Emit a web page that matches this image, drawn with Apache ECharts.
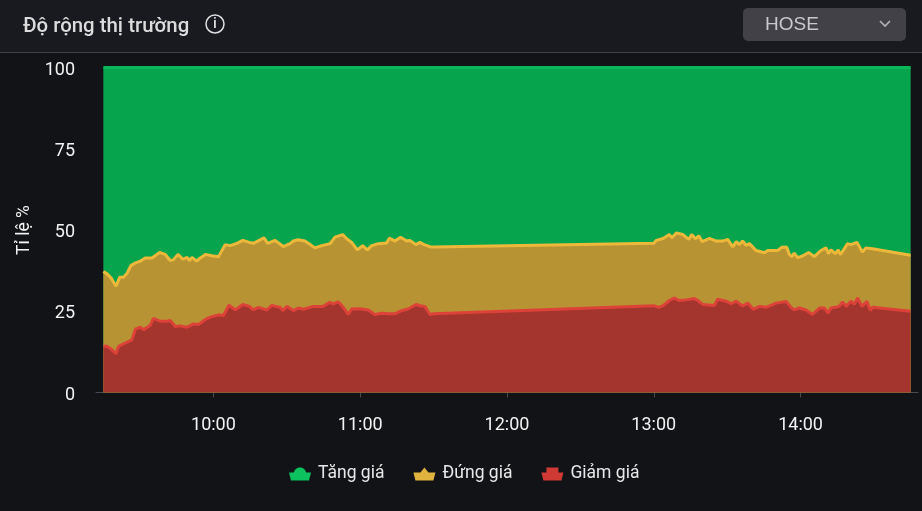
<!DOCTYPE html>
<html lang="vi">
<head>
<meta charset="utf-8">
<title>Độ rộng thị trường</title>
<style>
  html, body { margin: 0; padding: 0; background: #121316; }
  #chart { width: 922px; height: 511px; }
</style>
<script src="https://cdn.jsdelivr.net/npm/echarts@6/dist/echarts.min.js"></script>
</head>
<body>
<div id="chart"></div>
<script>
// Minutes after the 09:15 open, with the cumulative share (%) at each boundary.
const flatMinutes = [0, 330];
const flatValues = [100, 100];

const unchangedMinutes = [0, 1.5, 3.1, 5.2, 6.7, 8.3, 9.7, 11.3, 13.1, 15.1, 17.1, 19.9, 23, 25.3, 27.3, 28.6, 30.5, 32.5, 34.2, 35.2, 36.2, 38.2, 39.6, 41.9, 44.4, 47.1, 49.8, 51.8, 54.6, 57, 59.7, 61.3, 65.7, 67.1, 70.2, 73.6, 76.3, 77.7, 79.7, 82.4, 83.8, 86.5, 89.3, 92.7, 94.7, 97.8, 99.5, 101.5, 103.8, 106, 107.9, 109.7, 112.4, 115.8, 116.9, 119.2, 121.5, 124, 125.3, 127.8, 129.4, 131.4, 133.8, 135, 225, 226, 228.8, 231.4, 232.4, 234.2, 236.9, 239.3, 240.5, 242, 243.4, 244.8, 247.8, 250.5, 253.2, 255.2, 257.3, 258.7, 260, 261.3, 262.7, 264.1, 266.8, 270.2, 271.6, 275.6, 277.4, 279.3, 280.4, 281.5, 282.4, 283.8, 285.8, 288.3, 290.6, 293.3, 295.4, 296.4, 297.4, 299.2, 300.4, 301.3, 304.2, 305.6, 308, 310.3, 311.7, 314.4, 330];
const unchangedValues = [37.2, 36.5, 35.3, 32.7, 35.5, 35.5, 36.7, 39.1, 39.9, 40.4, 41.4, 41.4, 43.1, 42.5, 40.6, 40.8, 42.5, 41, 41.6, 40.6, 41.6, 40.4, 41.4, 42.5, 42.1, 41.8, 45.5, 45.2, 45.9, 46.8, 46.2, 45.9, 47.6, 45.9, 46.8, 44.9, 45.8, 46.6, 47, 46.6, 45.9, 44.5, 45.2, 45.8, 47.8, 48.6, 47.3, 46.2, 43.9, 45.2, 43.9, 45.2, 45.8, 46, 47.5, 46.6, 47.8, 46.6, 46.8, 45.5, 46.2, 45.4, 44.8, 44.8, 45.9, 46.8, 47.4, 48.6, 47.6, 49.1, 48.6, 47.1, 48.6, 47.3, 48.2, 46.4, 47.4, 46.6, 46.6, 47.1, 44.8, 46.4, 45.5, 46.6, 45.3, 45.8, 43.7, 43, 43.7, 43.7, 44.7, 44.8, 42.5, 41.8, 42.9, 41.5, 42, 43.1, 41.8, 43.7, 44.5, 42.7, 43.9, 42.7, 43.9, 42.4, 45.8, 45.5, 46.2, 43.2, 44.5, 44.2, 42.2];

const fallingMinutes = [0, 1.5, 3.1, 5.2, 6.2, 8.3, 11.7, 13.1, 15.1, 16.5, 19.2, 20.5, 23.3, 26, 27.3, 29.4, 31.4, 34.2, 36.9, 38.9, 41.6, 43.7, 47.1, 49.1, 51.4, 53.9, 57, 59.7, 61.3, 63.4, 66.8, 68.9, 72.2, 73.5, 75, 77.7, 79.7, 81.8, 85.8, 89.9, 92.4, 94, 96, 98.1, 100.1, 101.5, 104.9, 108.3, 111, 113.8, 116.4, 119.2, 121.9, 124.6, 127.8, 129.4, 131.4, 133.5, 135, 225, 225.7, 227.1, 229, 231.4, 233.5, 235.2, 238.2, 241.6, 243, 245, 249.8, 251.1, 254.6, 256.6, 258.7, 261.3, 263.4, 265.7, 268.2, 270.9, 275, 279.1, 281.1, 282.4, 284.5, 287.2, 289.9, 292.7, 294.7, 296.3, 297.4, 300.8, 302.2, 303.6, 305.6, 307, 308.3, 310.1, 312.1, 313.5, 314.4, 330];
const fallingValues = [14.2, 14.2, 13.4, 11.9, 14.2, 15, 16.2, 19.5, 20.1, 19.3, 20.7, 22.8, 21.9, 21.9, 22.2, 20.3, 20.5, 20.1, 21.1, 20.9, 22.4, 23.2, 23.9, 23.7, 26.9, 25.4, 27.1, 26.5, 25.4, 26.2, 25.4, 26.8, 26.2, 25.2, 26.5, 25.2, 26, 25.6, 26.5, 26.5, 27.7, 27.3, 27.9, 26.2, 24, 25.7, 25.8, 25.4, 24, 24.4, 24.2, 24.2, 25.2, 25.7, 27.1, 26.7, 26.5, 24, 24.2, 26.7, 26.8, 26.2, 26.8, 28.3, 29.1, 28.3, 28.5, 28.9, 28.3, 27.1, 26.8, 28.7, 28.1, 27.3, 28.1, 26.6, 27.5, 25.6, 26.5, 26.2, 27.5, 28, 26.2, 25.4, 26, 25.4, 24, 26, 26, 24.4, 26, 26.5, 27.9, 26.5, 28.1, 27.1, 29.1, 26.5, 28.1, 25.2, 26.2, 25];

const yTicks = [0, 25, 50, 75, 100];
const seriesNames = ['Tăng giá', 'Đứng giá', 'Giảm giá'];
const titleText = 'Độ rộng thị trường';
const exchangeText = 'HOSE';

const OPEN = new Date(2024, 0, 8, 9, 15).getTime();
const MINUTE = 60000;
const toPoints = (minutes, values) => minutes.map((m, i) => [OPEN + m * MINUTE, values[i]]);

// Legend glyphs: a tapered bar with a differently shaped cap per series.
const ICON_DOME = 'path://M0,5 L5,5 C6,-1.5 16,-1.5 17,5 L22,5 L20,13 L2,13 Z';
const ICON_STAR = 'path://M0,5 L7,5 L11,0 L15,5 L22,5 L20,13 L2,13 Z';
const ICON_SQUARE = 'path://M0,5 L5,5 L5,0 L17,0 L17,5 L22,5 L20,13 L2,13 Z';

const areaSeries = (name, points, line, fill) => ({
  name,
  type: 'line',
  data: points,
  symbol: 'none',
  showSymbol: false,
  clip: false,
  animation: false,
  itemStyle: { color: line },
  lineStyle: { color: line, width: 3 },
  areaStyle: { color: fill, opacity: 1 }
});

const chart = echarts.init(document.getElementById('chart'), null, { renderer: 'canvas' });
chart.setOption({
  backgroundColor: '#121316',
  animation: false,
  textStyle: { fontFamily: 'Roboto, sans-serif' },
  grid: { left: 96, right: 4, top: 67.5, bottom: 118.5, containLabel: false },
  xAxis: {
    type: 'time',
    min: OPEN - 3 * MINUTE,
    max: OPEN + 333 * MINUTE,
    minInterval: 60 * MINUTE,
    maxInterval: 60 * MINUTE,
    splitLine: { show: false },
    axisLine: { show: true, lineStyle: { color: '#4a4b50', width: 1 } },
    axisTick: { show: true, length: 5, lineStyle: { color: '#4a4b50' } },
    axisLabel: {
      color: '#f2f2f2',
      fontSize: 18,
      margin: 24,
      showMinLabel: false,
      showMaxLabel: false,
      formatter: '{HH}:{mm}'
    }
  },
  yAxis: {
    type: 'value',
    min: yTicks[0],
    max: yTicks[yTicks.length - 1],
    interval: 25,
    name: 'Tỉ lệ %',
    nameLocation: 'middle',
    nameRotate: 90,
    nameGap: 59,
    nameTextStyle: { color: '#f2f2f2', fontSize: 17.5 },
    splitLine: { show: false },
    axisLine: { show: false },
    axisTick: { show: false },
    axisLabel: {
      margin: 21,
      formatter: '{tick|{value}}',
      rich: { tick: { color: '#f2f2f2', fontSize: 18, padding: [5, 0, 0, 0] } }
    }
  },
  legend: {
    left: 284,
    top: 460,
    itemWidth: 22,
    itemHeight: 13,
    itemGap: 29,
    textStyle: { color: '#e8e8e8', fontSize: 17.5, padding: [0, 0, 0, 2] },
    data: [
      { name: seriesNames[0], icon: ICON_DOME, itemStyle: { color: '#0cc25e' } },
      { name: seriesNames[1], icon: ICON_STAR, itemStyle: { color: '#dfb33e' } },
      { name: seriesNames[2], icon: ICON_SQUARE, itemStyle: { color: '#d03a34' } }
    ]
  },
  series: [
    areaSeries(seriesNames[0], toPoints(flatMinutes, flatValues), '#0bb758', '#07a44e'),
    areaSeries(seriesNames[1], toPoints(unchangedMinutes, unchangedValues), '#eeb93a', '#b89334'),
    areaSeries(seriesNames[2], toPoints(fallingMinutes, fallingValues), '#dd4238', '#a3352e')
  ],
  graphic: [
    // Header band
    { type: 'rect', silent: true, z: -1, shape: { x: 0, y: 0, width: 922, height: 52 }, style: { fill: '#191a20' } },
    { type: 'rect', silent: true, shape: { x: 0, y: 52, width: 922, height: 1 }, style: { fill: '#414145' } },
    { type: 'text', silent: true, style: { x: 23, y: 27, text: titleText, fill: '#dcdcdc', font: '500 20.4px Roboto, sans-serif', textVerticalAlign: 'middle' } },
    // Info badge
    { type: 'circle', silent: true, shape: { cx: 215, cy: 24, r: 9 }, style: { fill: 'none', stroke: '#dedede', lineWidth: 1.5 } },
    { type: 'text', silent: true, style: { x: 215, y: 24.5, text: 'i', fill: '#dedede', font: '500 15px Roboto, sans-serif', textAlign: 'center', textVerticalAlign: 'middle' } },
    // Exchange selector
    { type: 'rect', silent: true, shape: { x: 743, y: 8, width: 163, height: 33, r: 5 }, style: { fill: '#414147' } },
    { type: 'text', silent: true, style: { x: 765, y: 25, text: exchangeText, fill: '#c9c9cc', font: '19px "Liberation Sans", sans-serif', textVerticalAlign: 'middle' } },
    { type: 'polyline', silent: true, shape: { points: [[880, 21], [885, 26], [890, 21]] }, style: { fill: 'none', stroke: '#b5b5b8', lineWidth: 1.6 } }
  ]
});
</script>
</body>
</html>
